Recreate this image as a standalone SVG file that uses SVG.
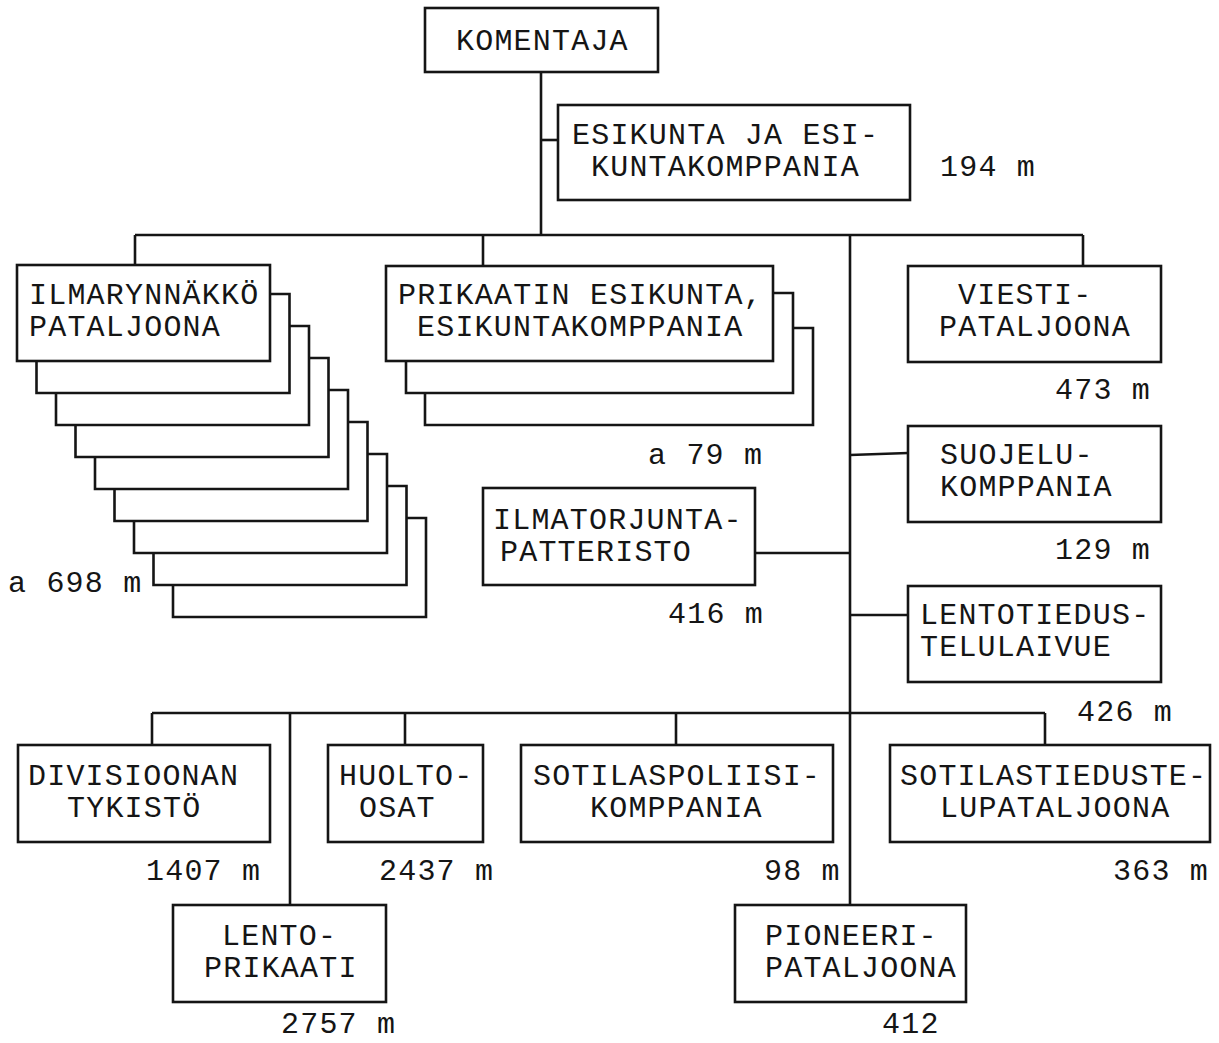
<svg xmlns="http://www.w3.org/2000/svg" width="1219" height="1043" viewBox="0 0 1219 1043">
  <style>
    .box { fill: #fff; stroke: #151515; stroke-width: 2.6; }
    .sh { fill: none; stroke: #151515; stroke-width: 2.6; stroke-linejoin: miter; }
    .ln { fill: none; stroke: #151515; stroke-width: 2.6; }
    text { font-family: "Liberation Mono", "DejaVu Sans Mono", monospace; font-size: 30px; letter-spacing: 1.2px; fill: #151515; }
  </style>
  <rect width="1219" height="1043" fill="#fff"/>

  <!-- connectors -->
  <g id="connectors" class="ln">
    <path d="M541 72 V235"/>
    <path d="M541 140 H558"/>
    <path d="M135 235 H1083"/>
    <path d="M135 235 V265"/>
    <path d="M483 235 V266"/>
    <path d="M1083 235 V266"/>
    <path d="M850 235 V905"/>
    <path d="M850 455 L908 453"/>
    <path d="M755 553 H850"/>
    <path d="M850 615 H908"/>
    <path d="M152 713 H1045"/>
    <path d="M152 713 V745"/>
    <path d="M405 713 V745"/>
    <path d="M676 713 V745"/>
    <path d="M1045 713 V745"/>
    <path d="M290 713 V905"/>
  </g>

  <g id="komentaja">
    <rect class="box" x="425" y="8" width="233" height="64"/>
    <text x="456" y="50">KOMENTAJA</text>
  </g>

  <g id="esikunta">
    <rect class="box" x="558" y="105" width="352" height="95"/>
    <text x="572" y="144">ESIKUNTA JA ESI-</text>
    <text x="591" y="176">KUNTAKOMPPANIA</text>
    <text x="940" y="176">194 m</text>
  </g>

  <g id="ilmarynnakko">
    <!-- stacked copies behind the front box -->
    <path class="sh" d="M270 294 H289.5 V393 H36.5 V361"/>
    <path class="sh" d="M289.5 326 H309 V425 H56 V393"/>
    <path class="sh" d="M309 358 H328.5 V457 H75.5 V425"/>
    <path class="sh" d="M328.5 390 H348 V489 H95 V457"/>
    <path class="sh" d="M348 422 H367.5 V521 H114.5 V489"/>
    <path class="sh" d="M367.5 454 H387 V553 H134 V521"/>
    <path class="sh" d="M387 486 H406.5 V585 H153.5 V553"/>
    <path class="sh" d="M406.5 518 H426 V617 H173 V585"/>
    <rect class="box" x="17" y="265" width="253" height="96"/>
    <text x="29" y="304">ILMARYNNÄKKÖ</text>
    <text x="29" y="336">PATALJOONA</text>
    <text x="8" y="592">a 698 m</text>
  </g>

  <g id="prikaatin-esikunta">
    <path class="sh" d="M773 293 H793 V393 H406 V361"/>
    <path class="sh" d="M793 328 H813 V425 H425 V393"/>
    <rect class="box" x="386" y="266" width="387" height="95"/>
    <text x="398" y="304">PRIKAATIN ESIKUNTA,</text>
    <text x="417" y="336">ESIKUNTAKOMPPANIA</text>
    <text x="648" y="464">a 79 m</text>
  </g>

  <g id="viesti">
    <rect class="box" x="908" y="266" width="253" height="96"/>
    <text x="958" y="304">VIESTI-</text>
    <text x="939" y="336">PATALJOONA</text>
    <text x="1055" y="399">473 m</text>
  </g>

  <g id="suojelu">
    <rect class="box" x="908" y="426" width="253" height="96"/>
    <text x="940" y="464">SUOJELU-</text>
    <text x="940" y="496">KOMPPANIA</text>
    <text x="1055" y="559">129 m</text>
  </g>

  <g id="ilmatorjunta">
    <rect class="box" x="483" y="488" width="272" height="97"/>
    <text x="493" y="529">ILMATORJUNTA-</text>
    <text x="500" y="561">PATTERISTO</text>
    <text x="668" y="623">416 m</text>
  </g>

  <g id="lentotiedustelu">
    <rect class="box" x="908" y="586" width="253" height="96"/>
    <text x="920" y="624">LENTOTIEDUS-</text>
    <text x="920" y="656">TELULAIVUE</text>
    <text x="1077" y="721">426 m</text>
  </g>

  <g id="divisioonan-tykisto">
    <rect class="box" x="18" y="745" width="252" height="97"/>
    <text x="28" y="785">DIVISIOONAN</text>
    <text x="67" y="817">TYKISTÖ</text>
    <text x="146" y="880">1407 m</text>
  </g>

  <g id="huolto">
    <rect class="box" x="328" y="745" width="155" height="97"/>
    <text x="339" y="785">HUOLTO-</text>
    <text x="359" y="817">OSAT</text>
    <text x="379" y="880">2437 m</text>
  </g>

  <g id="sotilaspoliisi">
    <rect class="box" x="521" y="745" width="312" height="97"/>
    <text x="533" y="785">SOTILASPOLIISI-</text>
    <text x="590" y="817">KOMPPANIA</text>
    <text x="764" y="880">98 m</text>
  </g>

  <g id="sotilastiedustelu">
    <rect class="box" x="890" y="745" width="320" height="97"/>
    <text x="900" y="785">SOTILASTIEDUSTE-</text>
    <text x="940" y="817">LUPATALJOONA</text>
    <text x="1113" y="880">363 m</text>
  </g>

  <g id="lentoprikaati">
    <rect class="box" x="173" y="905" width="213" height="97"/>
    <text x="222" y="945">LENTO-</text>
    <text x="204" y="977">PRIKAATI</text>
    <text x="281" y="1033">2757 m</text>
  </g>

  <g id="pioneeri">
    <rect class="box" x="735" y="905" width="231" height="97"/>
    <text x="765" y="945">PIONEERI-</text>
    <text x="765" y="977">PATALJOONA</text>
    <text x="882" y="1033">412</text>
  </g>
</svg>
